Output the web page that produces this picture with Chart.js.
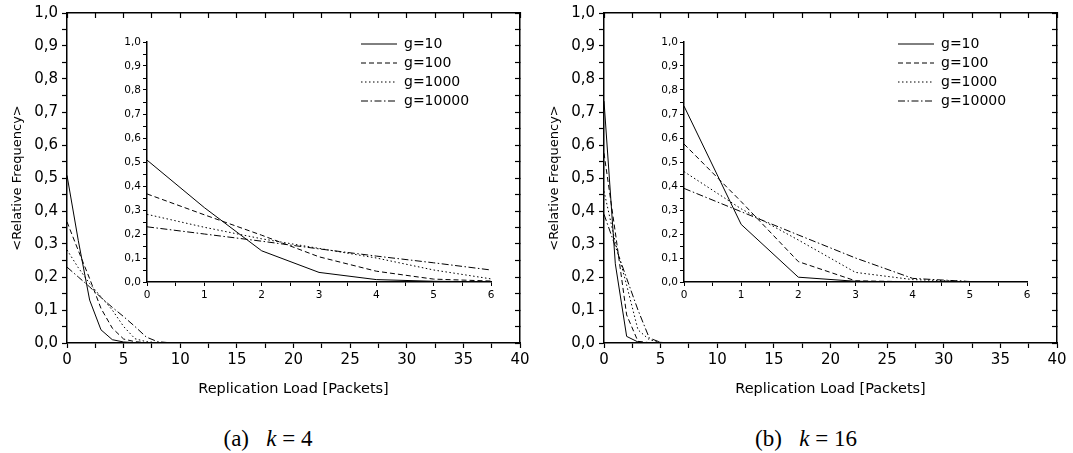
<!DOCTYPE html>
<html>
<head>
<meta charset="utf-8">
<script src="https://cdn.jsdelivr.net/npm/chart.js@4.4.1/dist/chart.umd.min.js"></script>
<style>
  html, body { margin: 0; padding: 0; background: #fff; }
  #page { position: relative; width: 1073px; height: 453px; overflow: hidden; background: #fff; }
  canvas { position: absolute; }
  .caption { position: absolute; width: 240px; text-align: center; font-family: 'Liberation Serif', 'DejaVu Serif', serif; font-size: 23px; line-height: 26px; color: #000; }
</style>
</head>
<body>
<div id="page">
  <canvas id="mainA" width="536" height="410" style="left:0;top:0"></canvas>
  <canvas id="insetA" width="400" height="290" style="left:100px;top:25px"></canvas>
  <canvas id="mainB" width="536" height="410" style="left:537px;top:0"></canvas>
  <canvas id="insetB" width="400" height="290" style="left:637px;top:25px"></canvas>
  <div class="caption" style="left:148px;top:426px">(a)&nbsp;&nbsp;&nbsp;<i>k</i>&nbsp;=&nbsp;4</div>
  <div class="caption" style="left:686px;top:426px">(b)&nbsp;&nbsp;&nbsp;<i>k</i>&nbsp;=&nbsp;16</div>
</div>
<script>
// replication load (packets) on the x axis
const loads = [0, 1, 2, 3, 4, 5, 6, 7, 8, 9, 10];
const groupLabels = ['g=10', 'g=100', 'g=1000', 'g=10000'];

// (a) k = 4
const k4_g10    = [0.508, 0.310, 0.130, 0.040, 0.010, 0.003, 0.001, 0, 0, 0, 0];
const k4_g100   = [0.367, 0.280, 0.195, 0.105, 0.045, 0.012, 0.004, 0.001, 0, 0, 0];
const k4_g1000  = [0.282, 0.228, 0.180, 0.140, 0.100, 0.050, 0.013, 0.004, 0.001, 0, 0];
const k4_g10000 = [0.230, 0.200, 0.170, 0.138, 0.108, 0.080, 0.050, 0.018, 0.004, 0.001, 0];

// (b) k = 16
const k16_g10    = [0.733, 0.240, 0.020, 0.003, 0, 0, 0, 0, 0, 0, 0];
const k16_g100   = [0.575, 0.335, 0.085, 0.005, 0.001, 0, 0, 0, 0, 0, 0];
const k16_g1000  = [0.460, 0.305, 0.175, 0.040, 0.010, 0.002, 0, 0, 0, 0, 0];
const k16_g10000 = [0.390, 0.293, 0.196, 0.100, 0.015, 0.002, 0, 0, 0, 0, 0];

const mainXMax = 40;
const insetXMax = 6;

Chart.defaults.font.family = "'DejaVu Sans', sans-serif";
Chart.defaults.color = '#000';

// solid, dashed, dotted, dash-dot
const lineStyles = [[], [5, 3], [1.5, 2.5], [7, 2.5, 1.5, 2.5]];

function buildDatasets(series) {
  return series.map((vals, i) => ({
    label: groupLabels[i],
    data: loads.map((x, j) => ({ x: x, y: vals[j] })),
    borderColor: '#000',
    backgroundColor: '#000',
    borderWidth: 1,
    borderDash: lineStyles[i],
    pointRadius: 0,
    pointStyle: 'line',
    tension: 0,
    fill: false
  }));
}

const commaLabel = v => (Math.round(v * 20) % 2 === 0 ? v.toFixed(1).replace('.', ',') : '');

// moves a 'chartArea' legend to a spot inside the plot
const legendSpot = {
  id: 'legendSpot',
  afterLayout(chart, args, opts) {
    const lg = chart.legend;
    if (!lg || !opts || opts.dx === undefined) return;
    lg.left = chart.chartArea.left + opts.dx;
    lg.top = chart.chartArea.top + opts.dy;
  }
};

function mainOptions() {
  const tickGrid = { drawOnChartArea: false, drawTicks: true, tickLength: 5, tickColor: '#000', tickWidth: 1.2 };
  const innerGrid = { drawOnChartArea: false, drawTicks: true, tickLength: -5, tickColor: '#000', tickWidth: 1.2 };
  const border = { color: '#000', width: 1.5 };
  return {
    responsive: false,
    animation: false,
    layout: { padding: 0 },
    plugins: { legend: { display: false }, tooltip: { enabled: false } },
    scales: {
      x: {
        type: 'linear', position: 'bottom', min: 0, max: mainXMax,
        ticks: { stepSize: 2.5, autoSkip: false, maxRotation: 0, padding: 3, font: { size: 15 }, color: '#000',
          callback: v => (v % 5 === 0 ? String(v) : '') },
        grid: tickGrid, border: border,
        title: { display: true, text: 'Replication Load [Packets]', font: { size: 14.5 }, color: '#000', padding: { top: 0, bottom: 12 } },
        afterFit: s => { s.height = 67; }
      },
      xTop: {
        type: 'linear', position: 'top', display: true, min: 0, max: mainXMax,
        ticks: { stepSize: 2.5, display: false },
        grid: innerGrid, border: border,
        afterFit: s => { s.height = 11; }
      },
      y: {
        type: 'linear', position: 'left', min: 0, max: 1,
        ticks: { stepSize: 0.05, autoSkip: false, padding: 4, font: { size: 15 }, color: '#000', callback: commaLabel },
        grid: tickGrid, border: border,
        title: { display: true, text: '<Relative Frequency>', font: { size: 13 }, color: '#000', padding: { top: 10, bottom: 0 } },
        afterFit: s => { s.width = 67; }
      },
      yRight: {
        type: 'linear', position: 'right', display: true, min: 0, max: 1,
        ticks: { stepSize: 0.05, display: false },
        grid: innerGrid, border: border,
        afterFit: s => { s.width = 16; }
      }
    }
  };
}

function insetOptions(padRight) {
  const tickGrid = { drawOnChartArea: false, drawTicks: true, tickLength: 4, tickColor: '#000', tickWidth: 1 };
  const border = { color: '#000', width: 1.5 };
  return {
    responsive: false,
    animation: false,
    layout: { padding: { top: 17, right: padRight, left: 0, bottom: 0 } },
    plugins: {
      tooltip: { enabled: false },
      legend: {
        display: true,
        position: 'chartArea',
        align: 'start',
        labels: {
          usePointStyle: true,
          pointStyleWidth: 36,
          boxHeight: 10,
          padding: 5,
          color: '#000',
          font: { size: 14 },
          generateLabels(chart) {
            const items = Chart.defaults.plugins.legend.labels.generateLabels(chart);
            items.forEach(it => {
              it.lineDash = chart.data.datasets[it.datasetIndex].borderDash;
              it.lineWidth = 1;
              it.strokeStyle = '#000';
            });
            return items;
          }
        }
      },
      legendSpot: { dx: 209, dy: -10 }
    },
    scales: {
      x: {
        type: 'linear', position: 'bottom', min: 0, max: insetXMax,
        ticks: { stepSize: 0.5, autoSkip: false, maxRotation: 0, padding: 3, font: { size: 10.5 }, color: '#000',
          callback: v => (Number.isInteger(v) ? String(v) : '') },
        grid: tickGrid, border: border,
        afterFit: s => { s.height = 33; }
      },
      y: {
        type: 'linear', position: 'left', min: 0, max: 1,
        ticks: { stepSize: 0.05, autoSkip: false, padding: 2, font: { size: 10.5 }, color: '#000', callback: commaLabel },
        grid: tickGrid, border: border,
        afterFit: s => { s.width = 47; }
      }
    }
  };
}

const seriesA = [k4_g10, k4_g100, k4_g1000, k4_g10000];
const seriesB = [k16_g10, k16_g100, k16_g1000, k16_g10000];

new Chart(document.getElementById('mainA'), { type: 'line', data: { datasets: buildDatasets(seriesA) }, options: mainOptions() });
new Chart(document.getElementById('insetA'), { type: 'line', data: { datasets: buildDatasets(seriesA) }, options: insetOptions(9), plugins: [legendSpot] });
new Chart(document.getElementById('mainB'), { type: 'line', data: { datasets: buildDatasets(seriesB) }, options: mainOptions() });
new Chart(document.getElementById('insetB'), { type: 'line', data: { datasets: buildDatasets(seriesB) }, options: insetOptions(10), plugins: [legendSpot] });
</script>
</body>
</html>
